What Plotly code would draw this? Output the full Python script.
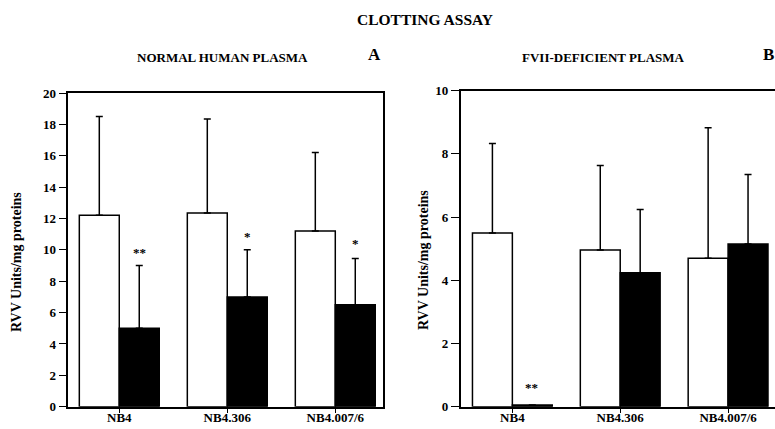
import plotly.graph_objects as go

# ---- data ----
cell_lines = ["NB4", "NB4.306", "NB4.007/6"]

# Panel A: normal human plasma
a_white = [12.2, 12.35, 11.2]
a_white_err = [6.3, 6.0, 5.0]
a_black = [5.0, 7.0, 6.5]
a_black_err = [4.0, 3.0, 2.95]
a_marks = ["**", "*", "*"]
a_mark_y = [9.85, 10.85, 10.4]

# Panel B: FVII-deficient plasma
b_white = [5.5, 4.96, 4.70]
b_white_err = [2.83, 2.67, 4.13]
b_black = [0.05, 4.24, 5.15]
b_black_err = [None, 2.0, 2.2]
b_marks = ["**", "", ""]
b_mark_y = [0.6, None, None]

yticks_a = list(range(0, 21, 2))
yticks_b = list(range(0, 11, 2))

FONT = "Liberation Serif"
W, H = 775, 429


def px_x(p):
    return p / W


def px_y(p):
    return (H - p) / H


fig = go.Figure()


def add_pair(white, werr, black, berr, xa, ya):
    fig.add_trace(go.Bar(
        x=cell_lines, y=white, xaxis=xa, yaxis=ya,
        marker=dict(color="white", line=dict(color="black", width=1.5)),
        error_y=dict(type="data", array=werr, arrayminus=[0] * 3, symmetric=False,
                     color="black", thickness=1.5, width=3.5),
        offsetgroup="w", showlegend=False, hoverinfo="skip"))
    fig.add_trace(go.Bar(
        x=cell_lines, y=black, xaxis=xa, yaxis=ya,
        marker=dict(color="black", line=dict(color="black", width=1.5)),
        error_y=dict(type="data", array=berr, arrayminus=[0] * 3, symmetric=False,
                     color="black", thickness=1.5, width=3.5),
        offsetgroup="b", showlegend=False, hoverinfo="skip"))


add_pair(a_white, a_white_err, a_black, a_black_err, "x", "y")
add_pair(b_white, b_white_err, b_black, b_black_err, "x2", "y2")

tickfont = dict(family=FONT, size=13, color="black", weight="bold")

xcommon = dict(type="category", categoryorder="array", categoryarray=cell_lines,
               range=[-0.472, 2.439], showline=True, linecolor="black", linewidth=1.5,
               mirror=True, ticks="outside", ticklen=5, tickwidth=1.2, tickcolor="black",
               ticklabelstandoff=-7,
               tickfont=tickfont, showgrid=False, zeroline=False, automargin=False)
ycommon = dict(showline=True, linecolor="black", linewidth=1.5, ticks="outside",
               ticklen=8, tickwidth=1.2, tickcolor="black", tickfont=tickfont,
               showgrid=False, zeroline=False, automargin=False)

fig.update_layout(
    template="none",
    width=W, height=H, margin=dict(l=0, r=0, t=0, b=0, autoexpand=False),
    paper_bgcolor="white", plot_bgcolor="white",
    barmode="group", bargap=0.26, bargroupgap=0, showlegend=False,
    font=dict(family=FONT, color="black"),
    xaxis=dict(xcommon, domain=[px_x(68.3), px_x(382.7)], anchor="y"),
    yaxis=dict(ycommon, domain=[px_y(406.7), px_y(93)], range=[0, 20],
               tickvals=yticks_a, mirror=True, anchor="x"),
    xaxis2=dict(xcommon, domain=[px_x(460.7), 1.0], anchor="y2",
                range=[-0.479, 2.435]),
    yaxis2=dict(ycommon, domain=[px_y(406.7), px_y(90.7)], range=[0, 10],
                tickvals=yticks_b, mirror=False, anchor="x2"),
)

ann = []
bold = lambda s: dict(family=FONT, size=s, color="black", weight="bold")


def paper_text(text, x, y, size, angle=0):
    ann.append(dict(text=text, x=px_x(x), y=px_y(y), xref="paper", yref="paper",
                    xanchor="center", yanchor="middle", showarrow=False,
                    textangle=angle, font=bold(size)))


paper_text("CLOTTING ASSAY", 425, 19, 15.5)
paper_text("NORMAL HUMAN PLASMA", 222, 58, 13)
paper_text("A", 374, 55, 17)
paper_text("FVII-DEFICIENT PLASMA", 603, 58, 13)
paper_text("B", 768, 55, 17)
paper_text("RVV Units/mg proteins", 16, 262, 14, -90)
paper_text("RVV Units/mg proteins", 423, 260, 14, -90)

for cat, m, yv in zip(cell_lines, a_marks, a_mark_y):
    if m:
        ann.append(dict(text=m, x=cat, y=yv, xref="x", yref="y", xshift=20,
                        xanchor="center", yanchor="middle",
                        showarrow=False, font=bold(13)))
for cat, m, yv in zip(cell_lines, b_marks, b_mark_y):
    if m:
        ann.append(dict(text=m, x=cat, y=yv, xref="x2", yref="y2", xshift=19.5,
                        xanchor="center", yanchor="middle",
                        showarrow=False, font=bold(13)))

fig.update_layout(annotations=ann)
fig.write_html("out.html", config={"displayModeBar": False},
               post_script="document.body.style.margin='0px';document.body.style.overflow='hidden';")
